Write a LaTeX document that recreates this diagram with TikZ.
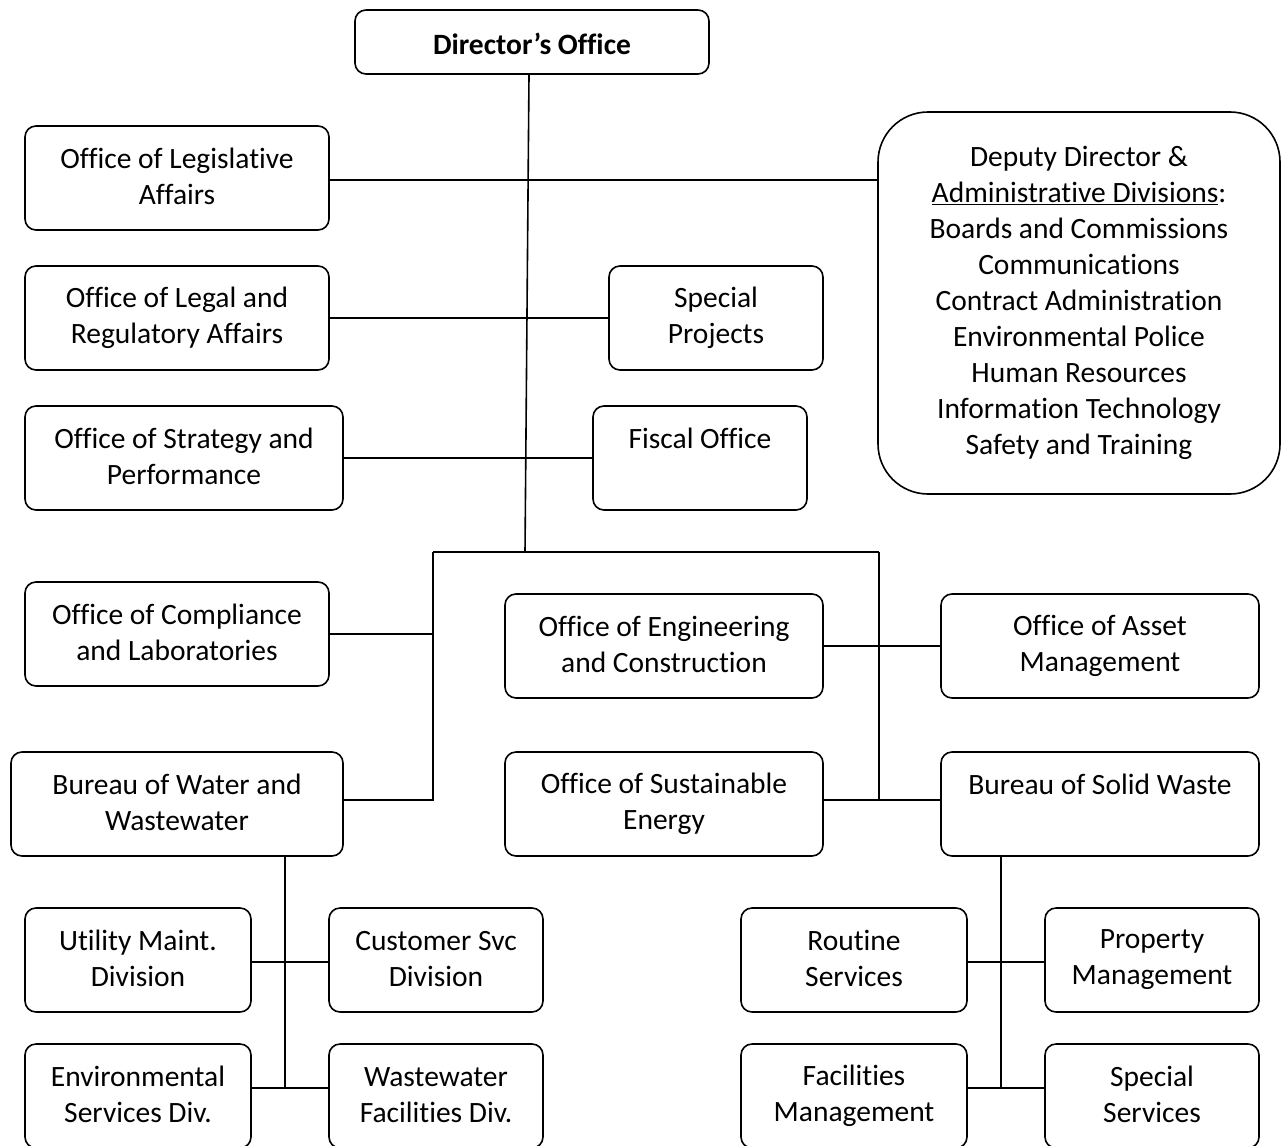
\documentclass[tikz,border=0pt]{standalone}
\usepackage{fontspec}
\setmainfont{Carlito}[Ligatures=NoCommon]
\newcommand\mystrut{\rule[-2.8pt]{0pt}{36pt}}
\newcommand\dirstrut{\rule[-7.8pt]{0pt}{36pt}}
\begin{document}
\begin{tikzpicture}[x=1pt,y=-1pt,
  box/.style={draw, line width=1.6pt, rounded corners=11pt, align=center, inner sep=0pt,
    font=\fontsize{29.5}{36}\selectfont,
    execute at begin node=\mystrut, execute at end node=\mystrut},
  conn/.style={line width=1.6pt}]
\clip (0,0) rectangle (1281,1145);
\fill[white] (0,0) rectangle (1281,1145);
% top
\node[box, minimum width=354pt, minimum height=64pt, font=\fontsize{29.5}{36}\selectfont\bfseries,
  execute at begin node=\dirstrut, execute at end node=\dirstrut] (dir) at (532,42) {Director’s Office};
\node[box, minimum width=304pt, minimum height=104pt] (leg) at (177,178) {Office of Legislative\\Affairs};
\node[box, minimum width=402pt, minimum height=382pt, rounded corners=50pt] (dep) at (1079,303)
  {Deputy Director \&\\\underline{Administrative Divisions}:\\Boards and Commissions\\Communications\\Contract Administration\\Environmental Police\\Human Resources\\Information Technology\\Safety and Training};
\node[box, minimum width=304pt, minimum height=104pt] (legal) at (177,318) {Office of Legal and\\Regulatory Affairs};
\node[box, minimum width=214pt, minimum height=104pt] (spec) at (716,318) {Special\\Projects};
\node[box, minimum width=318pt, minimum height=104pt] (strat) at (184,458) {Office of Strategy and\\Performance};
\node[box, minimum width=214pt, minimum height=104pt] (fisc) at (700,458) {Fiscal Office\\};
% middle
\node[box, minimum width=304pt, minimum height=104pt] (comp) at (177,634) {Office of Compliance\\and Laboratories};
\node[box, minimum width=318pt, minimum height=104pt] (eng) at (664,646) {Office of Engineering\\and Construction};
\node[box, minimum width=318pt, minimum height=104pt] (asset) at (1100,646) {Office of Asset\\Management};
\node[box, minimum width=332pt, minimum height=104pt] (bww) at (177,804) {Bureau of Water and\\Wastewater};
\node[box, minimum width=318pt, minimum height=104pt] (sust) at (664,804) {Office of Sustainable\\Energy};
\node[box, minimum width=318pt, minimum height=104pt] (bsw) at (1100,804) {Bureau of Solid Waste\\};
% bottom left
\node[box, minimum width=226pt, minimum height=104pt] (util) at (138,960) {Utility Maint.\\Division};
\node[box, minimum width=214pt, minimum height=104pt] (cust) at (436,960) {Customer Svc\\Division};
\node[box, minimum width=226pt, minimum height=104pt] (env) at (138,1096) {Environmental\\Services Div.};
\node[box, minimum width=214pt, minimum height=104pt] (wwf) at (436,1096) {Wastewater\\Facilities Div.};
% bottom right
\node[box, minimum width=226pt, minimum height=104pt] (rout) at (854,960) {Routine\\Services};
\node[box, minimum width=214pt, minimum height=104pt] (prop) at (1152,960) {Property\\Management};
\node[box, minimum width=226pt, minimum height=104pt] (fac) at (854,1096) {Facilities\\Management};
\node[box, minimum width=214pt, minimum height=104pt] (sps) at (1152,1096) {Special\\Services};
% connectors
\coordinate (tb) at (525,552);
\coordinate (bl) at (433,552);
\coordinate (br) at (879,552);
\coordinate (jl) at (433,800);
\coordinate (jr) at (879,800);
\coordinate (ly) at (0,180);
\coordinate (wu) at (285,962);
\coordinate (wl) at (285,1088);
\coordinate (su) at (1001,962);
\coordinate (sl) at (1001,1088);
\draw[conn] ([xshift=-3pt]dir.south) -- (tb);
\draw[conn] (ly -| leg.east) -- (ly -| dep.west);
\draw[conn] (legal.east) -- (spec.west);
\draw[conn] (strat.east) -- (fisc.west);
\draw[conn] (bl) -- (br);
\draw[conn] (bl) -- (jl) -- (jl -| bww.east);
\draw[conn] (comp.east) -- (comp.east -| bl);
\draw[conn] (br) -- (jr);
\draw[conn] (jr -| sust.east) -- (jr -| bsw.west);
\draw[conn] (eng.east) -- (asset.west);
\draw[conn] (bww.south -| wl) -- (wl);
\draw[conn] (wu -| util.east) -- (wu -| cust.west);
\draw[conn] (wl -| env.east) -- (wl -| wwf.west);
\draw[conn] (bsw.south -| sl) -- (sl);
\draw[conn] (su -| rout.east) -- (su -| prop.west);
\draw[conn] (sl -| fac.east) -- (sl -| sps.west);
\end{tikzpicture}
\end{document}
